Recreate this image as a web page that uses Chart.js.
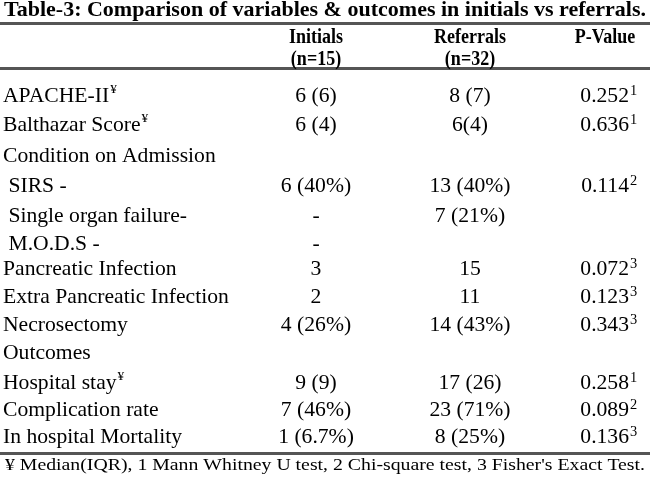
<!DOCTYPE html>
<html><head><meta charset="utf-8">
<script src="https://cdn.jsdelivr.net/npm/chart.js@4"></script>
<style>html,body{margin:0;background:#fff}#wrap{width:650px;height:479px}</style>
</head><body><div id="wrap"><canvas id="c"></canvas></div>
<script>
// ================= DATA =================
const title = "Table-3: Comparison of variables & outcomes in initials vs referrals.";
const headers = [["Initials","(n=15)"],["Referrals","(n=32)"],["P-Value",""]];
const labels = ["APACHE-II\u00a5","Balthazar Score\u00a5","Condition on Admission"," SIRS -"," Single organ failure-"," M.O.D.S -",
  "Pancreatic Infection","Extra Pancreatic Infection","Necrosectomy","Outcomes","Hospital stay\u00a5","Complication rate","In hospital Mortality"];
const initials = ["6 (6)","6 (4)","","6 (40%)","-","-","3","2","4 (26%)","","9 (9)","7 (46%)","1 (6.7%)"];
const referrals = ["8 (7)","6(4)","","13 (40%)","7 (21%)","","15","11","14 (43%)","","17 (26)","23 (71%)","8 (25%)"];
const pvalues = ["0.252","0.636","","0.114","","","0.072","0.123","0.343","","0.258","0.089","0.136"];
const pnotes = ["1","1","","2","","","3","3","3","","1","2","3"];
const rowY = [96,125,156,186,216,244,269,297,325,353,383,410,437];
const footnote = "\u00a5 Median(IQR), 1 Mann Whitney U test, 2 Chi-square test, 3 Fisher's Exact Test.";

// ================= TABLE PLUGIN =================
const tablePlugin = {
  id:"table",
  afterDraw(chart){
    const ctx = chart.ctx, X = v=>chart.scales.x.getPixelForValue(v), Y = v=>chart.scales.y.getPixelForValue(v);
    ctx.save();
    ctx.fillStyle="#000";
    ctx.textBaseline="middle";
    const SX=1.03;
    function txt(s,x,y,font,align,sx){
      ctx.font=font;
      sx=sx||SX;
      const w=ctx.measureText(s).width*sx;
      let x0 = align==="center"? x-w/2 : align==="right"? x-w : x;
      ctx.save(); ctx.translate(X(x0),Y(y)); ctx.scale(sx,1); ctx.textAlign="left"; ctx.fillText(s,0,0); ctx.restore();
    }
    function fit(s,x,y,font,width){ ctx.font=font; txt(s,x,y,font,"left",width/ctx.measureText(s).width); }
    // title, squeezed to width
    fit(title,4,11,"bold 21px 'Liberation Serif'",642);
    // rules
    ctx.fillStyle="#555";
    [[22,3],[67,3],[452,3]].forEach(([y,h])=>ctx.fillRect(X(0),Y(y),X(650)-X(0),h));
    ctx.fillStyle="#000";
    const colX=[316,470,605];
    const hf="bold 20px 'Liberation Serif'";
    headers.forEach((h,i)=>{
      txt(h[0],colX[i],38,hf,"center",0.9);
      if(h[1]) txt(h[1],colX[i],60,hf,"center",0.9);
    });
    const f="21px 'Liberation Serif'";
    labels.forEach((l,i)=>{
      const y=rowY[i];
      const m=l.match(/^(.*?)(\u00a5)?$/);
      txt(m[1],3,y,f,"left");
      if(m[2]){ ctx.font=f; const w=ctx.measureText(m[1]).width*SX; txt("\u00a5",3+w+1,y-6,"13px 'Liberation Serif'","left"); }
      if(initials[i]) txt(initials[i],316,y,f,"center");
      if(referrals[i]) txt(referrals[i],470,y,f,"center");
      if(pvalues[i]){ txt(pvalues[i],629,y,f,"right"); txt(pnotes[i],630,y-5,"14px 'Liberation Serif'","left"); }
    });
    fit(footnote,5,466,"17px 'Liberation Serif'",640);
    ctx.restore();
  }
};

new Chart(document.getElementById("c"),{
  type:"scatter",
  data:{datasets:[{data:[]}]},
  options:{
    responsive:true,maintainAspectRatio:false,animation:false,
    layout:{padding:0},
    plugins:{legend:{display:false},tooltip:{enabled:false}},
    scales:{
      x:{type:"linear",min:0,max:650,display:false},
      y:{type:"linear",min:0,max:479,reverse:true,display:false}
    }
  },
  plugins:[tablePlugin]
});
</script></body></html>
